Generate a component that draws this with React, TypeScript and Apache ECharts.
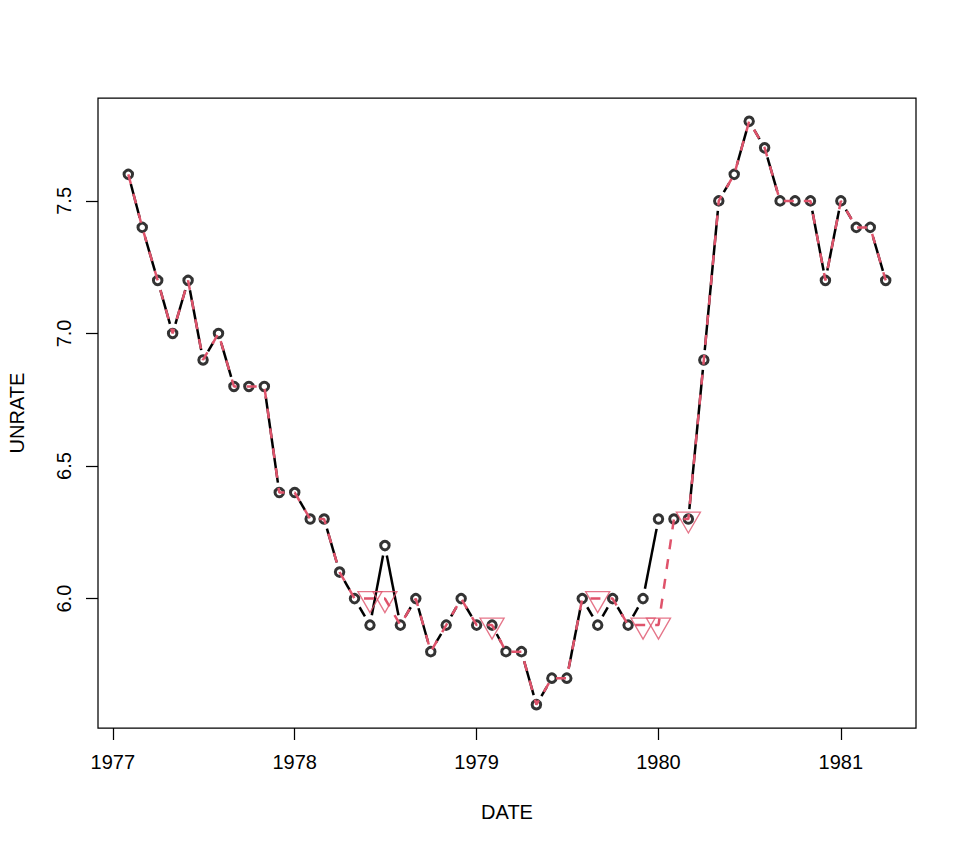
import React, { useEffect, useRef } from "react";
import * as echarts from "echarts";

// Monthly dates (first of month), Feb 1977 – Apr 1981
const dates: string[] = [
  "1977-02-01", "1977-03-01", "1977-04-01", "1977-05-01", "1977-06-01", "1977-07-01",
  "1977-08-01", "1977-09-01", "1977-10-01", "1977-11-01", "1977-12-01",
  "1978-01-01", "1978-02-01", "1978-03-01", "1978-04-01", "1978-05-01", "1978-06-01",
  "1978-07-01", "1978-08-01", "1978-09-01", "1978-10-01", "1978-11-01", "1978-12-01",
  "1979-01-01", "1979-02-01", "1979-03-01", "1979-04-01", "1979-05-01", "1979-06-01",
  "1979-07-01", "1979-08-01", "1979-09-01", "1979-10-01", "1979-11-01", "1979-12-01",
  "1980-01-01", "1980-02-01", "1980-03-01", "1980-04-01", "1980-05-01", "1980-06-01",
  "1980-07-01", "1980-08-01", "1980-09-01", "1980-10-01", "1980-11-01", "1980-12-01",
  "1981-01-01", "1981-02-01", "1981-03-01", "1981-04-01",
];

// Original UNRATE (black, circles)
const unrate: number[] = [
  7.6, 7.4, 7.2, 7.0, 7.2, 6.9, 7.0, 6.8, 6.8, 6.8, 6.4,
  6.4, 6.3, 6.3, 6.1, 6.0, 5.9, 6.2, 5.9, 6.0, 5.8, 5.9, 6.0,
  5.9, 5.9, 5.8, 5.8, 5.6, 5.7, 5.7, 6.0, 5.9, 6.0, 5.9, 6.0,
  6.3, 6.3, 6.3, 6.9, 7.5, 7.6, 7.8, 7.7, 7.5, 7.5, 7.5, 7.2,
  7.5, 7.4, 7.4, 7.2,
];

// Imputed series (red dashed)
const imputed: number[] = [
  7.6, 7.4, 7.2, 7.0, 7.2, 6.9, 7.0, 6.8, 6.8, 6.8, 6.4,
  6.4, 6.3, 6.3, 6.1, 6.0, 6.0, 6.0, 5.9, 6.0, 5.8, 5.9, 6.0,
  5.9, 5.9, 5.8, 5.8, 5.6, 5.7, 5.7, 6.0, 6.0, 6.0, 5.9, 5.9,
  5.9, 6.3, 6.3, 6.9, 7.5, 7.6, 7.8, 7.7, 7.5, 7.5, 7.5, 7.2,
  7.5, 7.4, 7.4, 7.2,
];

// Dates whose values were imputed (red triangles)
const imputedDates: string[] = [
  "1978-06-01", "1978-07-01", "1979-02-01", "1979-09-01",
  "1979-12-01", "1980-01-01", "1980-03-01",
];

const xTickYears: number[] = [1977, 1978, 1979, 1980, 1981];
const yTicks: number[] = [6.0, 6.5, 7.0, 7.5];

const ts = (d: string) => {
  const [y, m, dd] = d.split("-").map(Number);
  return Date.UTC(y, m - 1, dd);
};

export default function App() {
  const ref = useRef<HTMLDivElement>(null);

  useEffect(() => {
    if (!ref.current) return;
    const chart = echarts.init(ref.current, undefined, { renderer: "svg" });

    const xs = dates.map(ts);
    const xMinD = xs[0];
    const xMaxD = xs[xs.length - 1];
    const xPad = 0.04 * (xMaxD - xMinD);
    const yMinD = Math.min(...unrate, ...imputed);
    const yMaxD = Math.max(...unrate, ...imputed);
    const yPad = 0.04 * (yMaxD - yMinD);

    const blackPts = xs.map((x, i) => [x, unrate[i]]);
    const redPts = xs.map((x, i) => [x, imputed[i]]);
    const segs = xs.slice(0, -1).map((x, i) => [x, unrate[i], xs[i + 1], unrate[i + 1]]);
    const triPts = imputedDates.map((d) => {
      const i = dates.indexOf(d);
      return [xs[i], imputed[i]];
    });
    const yearTs = xTickYears.map((y) => Date.UTC(y, 0, 1));

    const RED = "#DF536B";
    const FONT = "'Liberation Sans', Arial, Helvetica, sans-serif";
    const GAP = 10;

    chart.setOption({
      animation: false,
      backgroundColor: "#ffffff",
      grid: {
        left: 98,
        top: 98,
        width: 818,
        height: 630,
        show: true,
        borderColor: "#000",
        borderWidth: 1.25,
        backgroundColor: "transparent",
      },
      xAxis: {
        type: "value",
        min: xMinD - xPad,
        max: xMaxD + xPad,
        axisLine: { show: false },
        splitLine: { show: false },
        axisTick: {
          show: true,
          inside: false,
          length: 12,
          customValues: yearTs,
          lineStyle: { color: "#000", width: 1.25 },
        },
        axisLabel: {
          customValues: yearTs,
          formatter: (v: number) => String(new Date(v).getUTCFullYear()),
          fontSize: 20,
          fontFamily: FONT,
          color: "#000",
          margin: 24,
        },
      },
      yAxis: {
        type: "value",
        min: yMinD - yPad,
        max: yMaxD + yPad,
        axisLine: { show: false },
        splitLine: { show: false },
        axisTick: {
          show: true,
          inside: false,
          length: 12,
          customValues: yTicks,
          lineStyle: { color: "#000", width: 1.25 },
        },
        axisLabel: {
          customValues: yTicks,
          formatter: (v: number) => v.toFixed(1),
          fontSize: 20,
          fontFamily: FONT,
          color: "#000",
          rotate: 90,
          margin: 24,
        },
      },
      series: [
        {
          type: "custom",
          z: 2,
          data: segs,
          encode: { x: [0, 2], y: [1, 3] },
          renderItem: (params: any, api: any) => {
            const p0 = api.coord([api.value(0), api.value(1)]);
            const p1 = api.coord([api.value(2), api.value(3)]);
            const dx = p1[0] - p0[0];
            const dy = p1[1] - p0[1];
            const f = Math.hypot(dx, dy);
            if (f <= 2 * GAP) return { type: "group", children: [] };
            const k = GAP / f;
            return {
              type: "line",
              shape: {
                x1: p0[0] + k * dx,
                y1: p0[1] + k * dy,
                x2: p1[0] - k * dx,
                y2: p1[1] - k * dy,
              },
              style: { stroke: "#000", lineWidth: 2.5 },
            };
          },
        },
        {
          type: "scatter",
          z: 3,
          data: blackPts,
          symbol: "circle",
          symbolSize: 8.5,
          itemStyle: { color: "transparent", borderColor: "#000", borderWidth: 3 },
        },
        {
          type: "line",
          z: 4,
          data: redPts,
          showSymbol: false,
          symbol: "none",
          lineStyle: { color: RED, width: 2.5, type: [10, 10] },
        },
        {
          type: "scatter",
          z: 5,
          data: triPts,
          symbol: "path://M0,0L24.2,0L12.1,21Z",
          symbolSize: [24.2, 21],
          symbolOffset: [0, 3.5],
          itemStyle: { color: "transparent", borderColor: RED, borderWidth: 1.25 },
        },
      ],
      graphic: [
        {
          type: "text",
          x: 507,
          y: 812,
          style: {
            text: "DATE",
            fontSize: 20,
            fontFamily: FONT,
            fill: "#000",
            align: "center",
            verticalAlign: "middle",
          },
        },
        {
          type: "text",
          x: 16.5,
          y: 413,
          rotation: Math.PI / 2,
          style: {
            text: "UNRATE",
            fontSize: 20,
            fontFamily: FONT,
            fill: "#000",
            align: "center",
            verticalAlign: "middle",
          },
        },
      ],
    });

    return () => chart.dispose();
  }, []);

  return (
    <div
      ref={ref}
      style={{ position: "fixed", left: 0, top: 0, width: 966, height: 850, background: "#fff" }}
    />
  );
}
